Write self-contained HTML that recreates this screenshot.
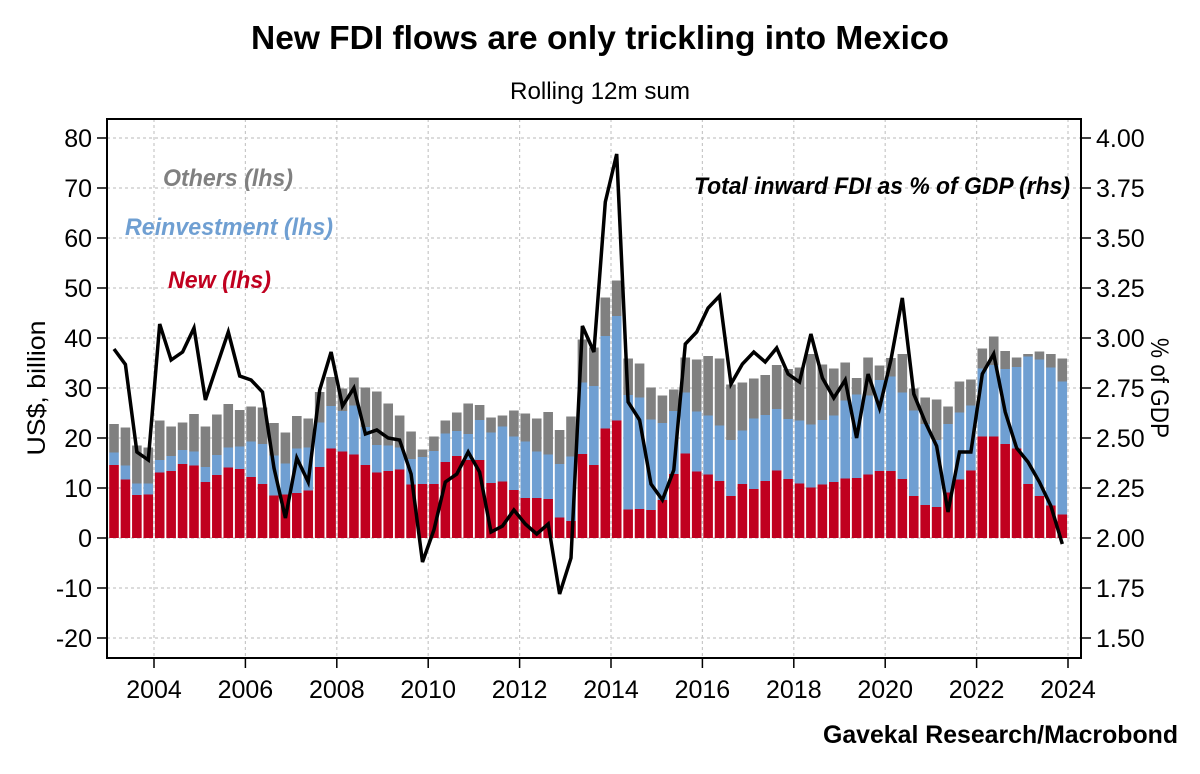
<!DOCTYPE html>
<html><head><meta charset="utf-8"><style>
html,body{margin:0;padding:0;background:#fff;}
svg{display:block;font-family:"Liberation Sans",sans-serif;}
</style></head><body>
<svg id="chart" width="1200" height="774" viewBox="0 0 1200 774">
<text x="600" y="49" text-anchor="middle" font-size="33" font-weight="bold" textLength="698" lengthAdjust="spacingAndGlyphs">New FDI flows are only trickling into Mexico</text>
<text x="600" y="99" text-anchor="middle" font-size="24" textLength="180" lengthAdjust="spacingAndGlyphs">Rolling 12m sum</text>
<g id="grid"></g>
<g id="bars"></g>
<g id="line"></g>
<g id="axes"></g>
<text x="0" y="0" transform="translate(45,388) rotate(-90)" text-anchor="middle" font-size="25" textLength="135" lengthAdjust="spacingAndGlyphs">US$, billion</text>
<text x="0" y="0" transform="translate(1151,388) rotate(90)" text-anchor="middle" font-size="25" textLength="100" lengthAdjust="spacingAndGlyphs">% of GDP</text>
<text x="163" y="186" font-size="24" font-weight="bold" font-style="italic" fill="#808080" textLength="130" lengthAdjust="spacingAndGlyphs">Others (lhs)</text>
<text x="125" y="235" font-size="24" font-weight="bold" font-style="italic" fill="#6f9fd2" textLength="208" lengthAdjust="spacingAndGlyphs">Reinvestment (lhs)</text>
<text x="168" y="288" font-size="24" font-weight="bold" font-style="italic" fill="#c0001f" textLength="103" lengthAdjust="spacingAndGlyphs">New (lhs)</text>
<text x="1070" y="194" text-anchor="end" font-size="24" font-weight="bold" font-style="italic" fill="#000" textLength="376" lengthAdjust="spacingAndGlyphs">Total inward FDI as % of GDP (rhs)</text>
<text x="1178" y="743" text-anchor="end" font-size="25" font-weight="bold" textLength="355" lengthAdjust="spacingAndGlyphs">Gavekal Research/Macrobond</text>
</svg>
<script>
const newFdi = [14.6,11.7,8.6,8.7,13.1,13.4,14.8,14.5,11.2,12.6,14.1,13.8,12.2,10.8,8.5,8.7,9.0,9.5,14.2,17.9,17.3,16.7,14.6,13.1,13.4,13.7,10.7,10.8,
10.8,15.2,16.4,15.6,15.6,11.0,11.3,9.6,8.0,8.0,7.8,4.1,3.4,16.8,14.6,21.9,23.5,5.7,5.8,5.6,7.6,12.8,16.9,13.3,12.7,11.4,8.4,10.8,
9.8,11.4,13.5,11.8,10.9,10.1,10.7,11.2,11.9,12.0,12.7,13.4,13.4,11.8,8.4,6.6,6.2,9.1,11.7,13.5,20.3,20.3,18.8,17.9,10.8,8.4,6.5,4.7];
const reinvestment = [2.5,2.8,2.3,2.2,2.5,3.0,2.8,2.8,3.0,4.0,4.0,4.5,7.1,8.0,8.0,6.2,8.9,8.6,8.9,8.5,8.1,9.8,7.6,5.5,5.1,4.4,5.1,5.4,
6.6,5.7,5.0,5.2,8.0,10.1,11.0,10.7,11.3,9.3,8.9,10.7,12.9,14.3,15.8,18.5,20.9,22.9,22.3,18.1,15.4,12.6,12.2,12.0,11.8,11.1,11.2,10.7,
14.1,13.2,12.3,12.0,12.6,12.6,12.9,13.3,15.6,16.7,15.8,18.2,18.9,17.3,17.1,16.2,13.4,13.7,13.4,13.0,13.6,14.3,15.0,16.3,25.5,27.3,27.6,26.6];
const others = [5.7,7.6,7.6,7.2,7.9,5.9,5.5,7.5,8.1,8.1,8.7,7.3,7.0,7.3,6.5,6.2,6.5,5.8,6.1,5.8,4.5,5.6,7.9,10.7,8.4,6.4,5.5,1.5,
2.9,2.6,3.7,6.1,3.0,3.0,2.2,5.2,5.6,6.6,8.5,6.8,8.0,8.6,7.7,7.7,7.1,7.3,6.8,6.4,5.5,4.3,7.0,10.4,11.9,13.4,11.1,9.6,
8.0,8.0,8.8,10.0,10.6,14.1,11.1,9.4,7.6,3.3,7.6,2.9,3.7,7.7,4.4,5.3,8.1,3.5,6.2,5.2,4.0,5.7,3.6,1.9,0.5,1.6,2.7,4.6];
const fdiPctGdp = [2.945,2.868,2.43,2.39,3.07,2.89,2.93,3.05,2.69,2.86,3.03,2.81,2.79,2.73,2.35,2.10,2.40,2.28,2.74,2.93,2.66,2.75,2.52,2.54,2.50,2.49,2.32,1.88,
2.04,2.28,2.32,2.43,2.33,2.03,2.06,2.14,2.07,2.02,2.07,1.72,1.90,3.06,2.93,3.68,3.92,2.68,2.59,2.27,2.19,2.34,2.97,3.03,3.15,3.21,2.77,2.87,
2.93,2.88,2.95,2.82,2.78,3.02,2.80,2.70,2.79,2.50,2.82,2.65,2.89,3.20,2.72,2.58,2.46,2.13,2.43,2.43,2.82,2.92,2.63,2.45,2.38,2.28,2.16,1.97];
const leftTicks = [-20,-10,0,10,20,30,40,50,60,70,80];
const rightTicks = ["1.50","1.75","2.00","2.25","2.50","2.75","3.00","3.25","3.50","3.75","4.00"];
const yearTicks = [2004,2006,2008,2010,2012,2014,2016,2018,2020,2022,2024];
const startYear = 2003;

const NS="http://www.w3.org/2000/svg";
const L=107,R=1081,T=119,B=658;
const xT=t=>154+(t-2004)*45.7;
const yL=v=>538-v*5;
const yR=v=>538-(v-2)*200;
function mk(tag,attrs,parent){const e=document.createElementNS(NS,tag);for(const k in attrs)e.setAttribute(k,attrs[k]);parent.appendChild(e);return e;}
const grid=document.getElementById('grid'),bars=document.getElementById('bars'),line=document.getElementById('line'),axes=document.getElementById('axes');
leftTicks.forEach(v=>{
  const g=mk('line',{x1:L,x2:R,y1:yL(v),y2:yL(v),stroke:'#c8c8c8','stroke-width':1.2,'stroke-dasharray':'3,3'},grid);
  
  
});
yearTicks.forEach(y=>{
  const g=mk('line',{x1:xT(y),x2:xT(y),y1:T,y2:B,stroke:'#c8c8c8','stroke-width':1.2,'stroke-dasharray':'3,3'},grid);
  
  
});
const bw=9.6;
newFdi.forEach((n,i)=>{
  const cx=xT(startYear+(i+0.5)/4);
  const r=reinvestment[i],o=others[i];
  const b1=mk('rect',{x:cx-bw/2,y:yL(n),width:bw,height:yL(0)-yL(n),fill:'#c0001f'},bars);
  
  
  const b2=mk('rect',{x:cx-bw/2,y:yL(n+r),width:bw,height:yL(n)-yL(n+r),fill:'#6f9fd2'},bars);
  
  
  const b3=mk('rect',{x:cx-bw/2,y:yL(n+r+o),width:bw,height:yL(n+r)-yL(n+r+o),fill:'#808080'},bars);
  
  
});
const pts=fdiPctGdp.map((v,i)=>xT(startYear+(i+0.5)/4).toFixed(1)+','+yR(v).toFixed(1)).join(' ');
const pl=mk('polyline',{points:pts,fill:'none',stroke:'#000','stroke-width':3.5,'stroke-linejoin':'miter'},line);


const fr=mk('rect',{x:L,y:T,width:R-L,height:B-T,fill:'none',stroke:'#000','stroke-width':2},axes);


leftTicks.forEach(v=>{
  const t=mk('line',{x1:L-10,x2:L,y1:yL(v),y2:yL(v),stroke:'#000','stroke-width':1.5},axes);
  
  
  const tx=mk('text',{x:92,y:yL(v)+9,'text-anchor':'end','font-size':25},axes);
  tx.textContent=v;
  
  
});
rightTicks.forEach(s=>{
  const v=parseFloat(s);
  const t=mk('line',{x1:R,x2:R+10,y1:yR(v),y2:yR(v),stroke:'#000','stroke-width':1.5},axes);
  
  
  const tx=mk('text',{x:1096,y:yR(v)+9,'font-size':25},axes);
  tx.textContent=s;
  
  
});
yearTicks.forEach(y=>{
  const t=mk('line',{x1:xT(y),x2:xT(y),y1:B,y2:B+10,stroke:'#000','stroke-width':1.5},axes);
  
  
  const tx=mk('text',{x:xT(y),y:698,'text-anchor':'middle','font-size':25},axes);
  tx.textContent=y;
  
  
});
</script>
</body></html>
